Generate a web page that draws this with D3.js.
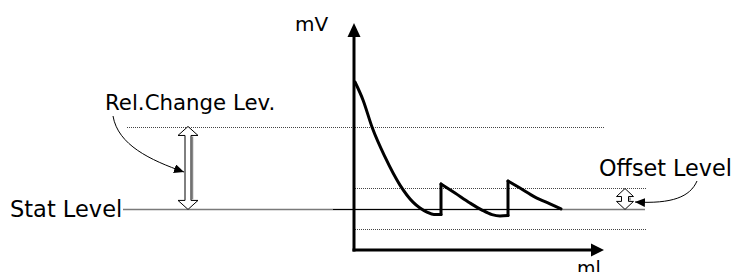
<!DOCTYPE html>
<html>
<head>
<meta charset="utf-8">
<script src="https://cdn.jsdelivr.net/npm/d3@7"></script>
<style>
  body { margin: 0; background: #fff; }
  text { font-family: "DejaVu Sans", "Liberation Sans", sans-serif; fill: #000; }
</style>
</head>
<body>
<div id="container"></div>
<script>
var width = 735, height = 272;

// levels (mV, arbitrary units)
var relChangeLevel = 54.2;
var offsetUpper = 27.3;
var statLevel = 18.1;
var offsetLower = 9.3;

// titration curve, three decay segments with jumps between them
var seg1X = [0.4, 3.6, 7.2, 12.4, 18.4, 23.6, 26.4, 29.2, 32.0, 34.8];
var seg1Y = [74.0, 66.1, 54.2, 41.0, 28.6, 21.1, 18.5, 16.7, 15.6, 15.6];
var seg2X = [34.8, 40.4, 46.4, 51.2, 55.2, 58.4, 61.6];
var seg2Y = [29.1, 25.1, 20.7, 17.6, 15.6, 15.0, 15.2];
var seg3X = [61.6, 66.4, 72.4, 78.4, 82.8];
var seg3Y = [30.4, 27.3, 23.3, 20.3, 18.1];

var labels = ['mV', 'ml', 'Rel.Change Lev.', 'Stat Level', 'Offset Level'];

var svg = d3.select('#container')
	.append('svg')
	.attr('width', width)
	.attr('height', height);

var x = d3.scaleLinear().domain([0, 100]).range([354, 604]);
var y = d3.scaleLinear().domain([0, 100]).range([250, 23]);

var defs = svg.append('defs');
defs.append('marker')
	.attr('id', 'tip')
	.attr('markerUnits', 'userSpaceOnUse')
	.attr('markerWidth', 11).attr('markerHeight', 9)
	.attr('refX', 10).attr('refY', 4.5)
	.attr('orient', 'auto')
	.append('path')
	.attr('d', 'M0,0 L10,4.5 L0,9 Z')
	.style('fill', '#000');

// reference lines
function hline(v, x1, x2, dotted, color, w) {
	svg.append('line')
		.attr('x1', x1).attr('x2', x2)
		.attr('y1', Math.round(y(v)) + 0.5).attr('y2', Math.round(y(v)) + 0.5)
		.style('stroke', color)
		.style('stroke-width', w)
		.style('stroke-dasharray', dotted ? '1,1' : null);
}
hline(relChangeLevel, 127, 605, true, '#444', 1);
hline(offsetUpper, 355, 647, true, '#444', 1);
hline(offsetLower, 355, 647, true, '#444', 1);
hline(statLevel, 123, 645, false, '#7a7a7a', 1.5);
hline(statLevel, 333, 562, false, '#000', 1);

// curve
var line = d3.line()
	.x(function(d){ return x(d[0]); })
	.y(function(d){ return y(d[1]); })
	.curve(d3.curveMonotoneX);

var segs = [[seg1X, seg1Y], [seg2X, seg2Y], [seg3X, seg3Y]];
segs.forEach(function(s){
	svg.append('path')
		.datum(d3.zip(s[0], s[1]))
		.attr('d', line)
		.style('fill', 'none')
		.style('stroke', '#000')
		.style('stroke-width', 3)
		.style('stroke-linecap', 'round')
		.style('stroke-linejoin', 'round');
});
// vertical jumps
[[seg1X, seg1Y, seg2X, seg2Y], [seg2X, seg2Y, seg3X, seg3Y]].forEach(function(j){
	var xa = j[0][j[0].length - 1];
	svg.append('line')
		.attr('x1', x(xa)).attr('x2', x(xa))
		.attr('y1', y(j[1][j[1].length - 1])).attr('y2', y(j[3][0]))
		.style('stroke', '#000')
		.style('stroke-width', 3)
		.style('stroke-linecap', 'round');
});

// axes with arrows
svg.append('line')
	.attr('x1', x(0)).attr('y1', y(0) + 1.5)
	.attr('x2', x(0)).attr('y2', y(100) + 13)
	.style('stroke', '#000').style('stroke-width', 3);
svg.append('path')
	.attr('d', 'M' + (x(0) - 6.5) + ',' + (y(100) + 14) + ' L' + x(0) + ',' + y(100) + ' L' + (x(0) + 6.5) + ',' + (y(100) + 14) + ' Z')
	.style('fill', '#000');
svg.append('line')
	.attr('x1', x(0) - 1.5).attr('y1', y(0))
	.attr('x2', x(100) - 13).attr('y2', y(0))
	.style('stroke', '#000').style('stroke-width', 3);
svg.append('path')
	.attr('d', 'M' + (x(100) - 13) + ',' + (y(0) - 6.5) + ' L' + x(100) + ',' + y(0) + ' L' + (x(100) - 13) + ',' + (y(0) + 6.5) + ' Z')
	.style('fill', '#000');

// hollow double arrows
function doubleArrow(cx, y1, y2, hw, hl, sw) {
	var pts = [
		[cx, y1], [cx + hw / 2, y1 + hl], [cx + sw / 2, y1 + hl],
		[cx + sw / 2, y2 - hl], [cx + hw / 2, y2 - hl], [cx, y2],
		[cx - hw / 2, y2 - hl], [cx - sw / 2, y2 - hl], [cx - sw / 2, y1 + hl],
		[cx - hw / 2, y1 + hl]
	];
	svg.append('line')
		.attr('x1', cx + sw / 2 + 1.5).attr('x2', cx + sw / 2 + 1.5)
		.attr('y1', y1 + hl + 1).attr('y2', y2 - hl - 1)
		.style('stroke', '#888').style('stroke-width', 1.5);
	svg.append('polygon')
		.attr('points', pts.map(function(p){ return p.join(','); }).join(' '))
		.style('fill', '#fff')
		.style('stroke', '#000')
		.style('stroke-width', 1);
}
doubleArrow(188, y(relChangeLevel) - 0.5, y(statLevel) + 0.5, 20, 9, 6);
doubleArrow(625, y(offsetUpper) + 0.5, y(statLevel) + 0.5, 17, 8, 7);

// curved pointers
var p1 = d3.path();
p1.moveTo(113, 116);
p1.bezierCurveTo(118, 145, 150, 160, 184, 172);
svg.append('path')
	.attr('d', p1.toString())
	.style('fill', 'none').style('stroke', '#000').style('stroke-width', 1)
	.attr('marker-end', 'url(#tip)');

var p2 = d3.path();
p2.moveTo(697, 181);
p2.bezierCurveTo(690, 197, 672, 204, 635, 202);
svg.append('path')
	.attr('d', p2.toString())
	.style('fill', 'none').style('stroke', '#000').style('stroke-width', 1)
	.attr('marker-end', 'url(#tip)');

// labels
svg.append('text').attr('x', 295).attr('y', 31).style('font-size', '20px').text(labels[0]);
svg.append('text').attr('x', 577).attr('y', 275).style('font-size', '19px').text(labels[1]);
svg.append('text').attr('x', 105).attr('y', 110).style('font-size', '21.3px').text(labels[2]);
svg.append('text').attr('x', 10).attr('y', 217).style('font-size', '22.5px').text(labels[3]);
svg.append('text').attr('x', 599).attr('y', 176).style('font-size', '22.3px').text(labels[4]);
</script>
</body>
</html>
